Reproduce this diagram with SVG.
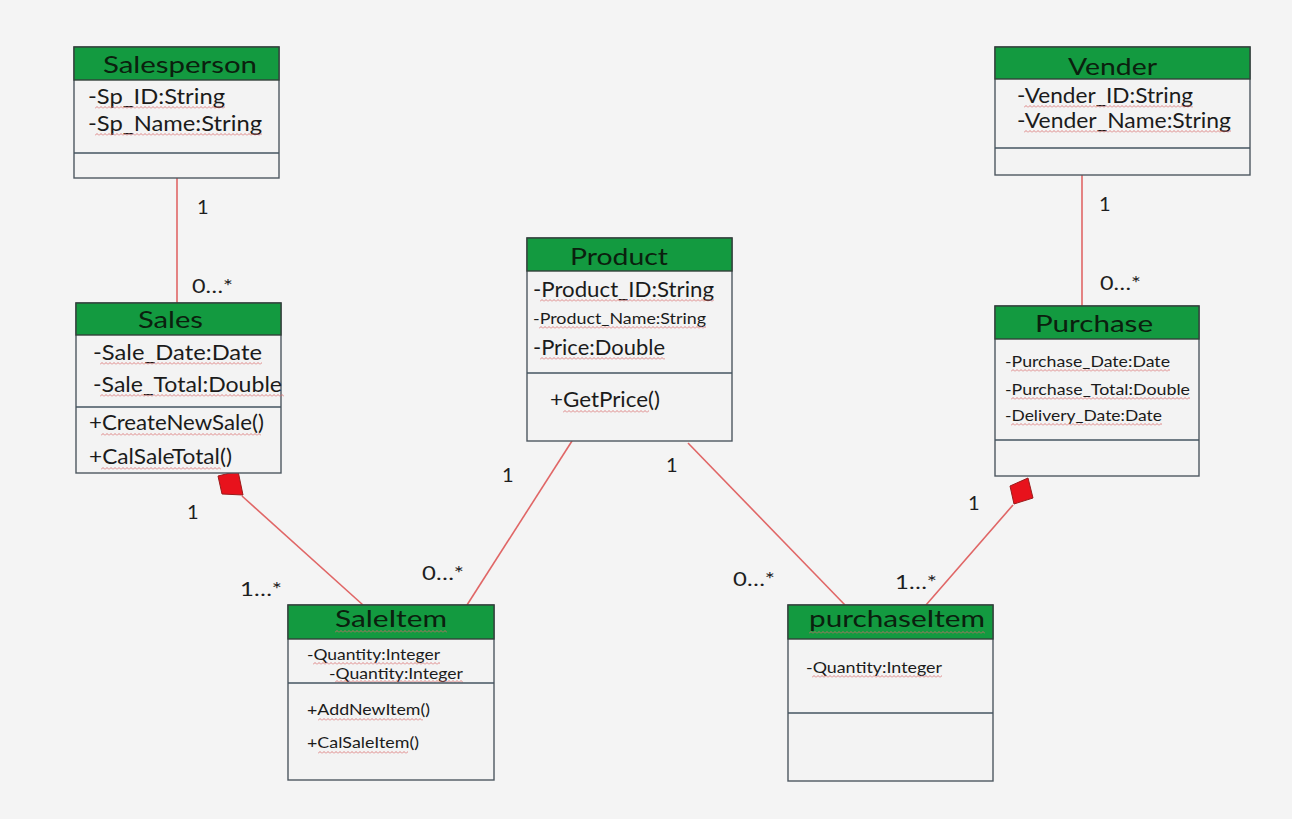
<svg xmlns="http://www.w3.org/2000/svg" width="1292" height="819" viewBox="0 0 1292 819">
<style>
.box{fill:#f3f3f3;stroke:#4d5760;stroke-width:1.4}
.hdr{fill:#139a40;stroke:#33403a;stroke-width:1.4}
.div{stroke:#455460;stroke-width:1.6}
.t{font-family:Lato,"Open Sans","DejaVu Sans",sans-serif;fill:#1b1b1b}
.h{font-family:Lato,"Open Sans","DejaVu Sans",sans-serif;fill:#0b200e;font-size:24px}
.a{font-size:21px}
.s{font-size:15px}
.m{font-size:16px}
.lbl{font-family:Lato,"Open Sans","DejaVu Sans",sans-serif;fill:#1e1e1e;font-size:20px}
.wv{fill:url(#wave)}
.c{stroke:#e06666;stroke-width:1.6;fill:none}
.dia{fill:#e8121c;stroke:#9a1a1a;stroke-width:1}
</style>
<defs>
<pattern id="wave" patternUnits="userSpaceOnUse" width="4" height="3">
<path d="M0 2.5 L2 0.5 L4 2.5" stroke="#d86a6a" stroke-width="0.8" fill="none"/>
</pattern>
</defs>
<rect width="1292" height="819" fill="#f4f4f4"/>

<g id="connectors">
<line class="c" x1="177" y1="178" x2="177" y2="303"/>
<line class="c" x1="1082" y1="175" x2="1082" y2="306"/>
<line class="c" x1="242" y1="496" x2="363" y2="605"/>
<polygon class="dia" points="218,476 238,471 243,495 222,494"/>
<line class="c" x1="572" y1="441" x2="467" y2="605"/>
<line class="c" x1="688" y1="443" x2="845" y2="605"/>
<line class="c" x1="1013" y1="505" x2="926" y2="605"/>
<polygon class="dia" points="1010,486 1028,478 1033,498 1014,504"/>
<text class="lbl" x="197" y="214">1</text>
<text class="lbl" x="192" y="293" textLength="41" lengthAdjust="spacingAndGlyphs">0…*</text>
<text class="lbl" x="1099" y="211">1</text>
<text class="lbl" x="1100" y="290" textLength="41" lengthAdjust="spacingAndGlyphs">0…*</text>
<text class="lbl" x="187" y="519">1</text>
<text class="lbl" x="240" y="596" textLength="42" lengthAdjust="spacingAndGlyphs">1…*</text>
<text class="lbl" x="422" y="580" textLength="42" lengthAdjust="spacingAndGlyphs">0…*</text>
<text class="lbl" x="502" y="482">1</text>
<text class="lbl" x="666" y="472">1</text>
<text class="lbl" x="733" y="586" textLength="42" lengthAdjust="spacingAndGlyphs">0…*</text>
<text class="lbl" x="895" y="589" textLength="42" lengthAdjust="spacingAndGlyphs">1…*</text>
<text class="lbl" x="968" y="510">1</text>
</g>

<g id="salesperson">
<rect class="box" x="74" y="47" width="205" height="131"/>
<rect class="hdr" x="74" y="47" width="205" height="33"/>
<text class="h" x="103" y="73" textLength="154" lengthAdjust="spacingAndGlyphs">Salesperson</text>
<text class="t a" x="88" y="104" textLength="137" lengthAdjust="spacingAndGlyphs">-Sp_ID:String</text>
<text class="t a" x="88" y="131" textLength="174" lengthAdjust="spacingAndGlyphs">-Sp_Name:String</text>
<rect class="wv" width="130" height="3" transform="translate(95,106)"/>
<rect class="wv" width="167" height="3" transform="translate(95,133)"/>
<line class="div" x1="74" y1="153" x2="279" y2="153"/>
</g>

<g id="sales">
<rect class="box" x="76" y="303" width="205" height="170"/>
<rect class="hdr" x="76" y="303" width="205" height="32"/>
<text class="h" x="138" y="328" textLength="65" lengthAdjust="spacingAndGlyphs">Sales</text>
<text class="t a" x="93" y="360" textLength="169" lengthAdjust="spacingAndGlyphs">-Sale_Date:Date</text>
<text class="t a" x="93" y="392" textLength="189" lengthAdjust="spacingAndGlyphs">-Sale_Total:Double</text>
<rect class="wv" width="162" height="3" transform="translate(100,362)"/>
<rect class="wv" width="184" height="3" transform="translate(100,394)"/>
<line class="div" x1="76" y1="407" x2="281" y2="407"/>
<text class="t a" x="89" y="430" textLength="175" lengthAdjust="spacingAndGlyphs">+CreateNewSale()</text>
<text class="t a" x="89" y="464" textLength="143" lengthAdjust="spacingAndGlyphs">+CalSaleTotal()</text>
<rect class="wv" width="160" height="3" transform="translate(101,433)"/>
<rect class="wv" width="120" height="3" transform="translate(101,467)"/>
</g>

<g id="vender">
<rect class="box" x="995" y="47" width="255" height="128"/>
<rect class="hdr" x="995" y="47" width="255" height="32"/>
<text class="h" x="1068" y="75" textLength="89" lengthAdjust="spacingAndGlyphs">Vender</text>
<text class="t a" x="1017" y="103" textLength="176" lengthAdjust="spacingAndGlyphs">-Vender_ID:String</text>
<text class="t a" x="1017" y="128" textLength="214" lengthAdjust="spacingAndGlyphs">-Vender_Name:String</text>
<rect class="wv" width="169" height="3" transform="translate(1024,105)"/>
<rect class="wv" width="207" height="3" transform="translate(1024,130)"/>
<line class="div" x1="995" y1="148" x2="1250" y2="148"/>
</g>

<g id="purchase">
<rect class="box" x="995" y="306" width="204" height="170"/>
<rect class="hdr" x="995" y="306" width="204" height="33"/>
<text class="h" x="1035" y="332" textLength="118" lengthAdjust="spacingAndGlyphs">Purchase</text>
<text class="t s" x="1005" y="367" textLength="165" lengthAdjust="spacingAndGlyphs">-Purchase_Date:Date</text>
<text class="t s" x="1005" y="395" textLength="185" lengthAdjust="spacingAndGlyphs">-Purchase_Total:Double</text>
<text class="t s" x="1005" y="421" textLength="157" lengthAdjust="spacingAndGlyphs">-Delivery_Date:Date</text>
<rect class="wv" width="159" height="3" transform="translate(1011,369)"/>
<rect class="wv" width="179" height="3" transform="translate(1011,397)"/>
<rect class="wv" width="151" height="3" transform="translate(1011,423)"/>
<line class="div" x1="995" y1="440" x2="1199" y2="440"/>
</g>

<g id="product">
<rect class="box" x="527" y="238" width="205" height="203"/>
<rect class="hdr" x="527" y="238" width="205" height="33"/>
<text class="h" x="570" y="265" textLength="98" lengthAdjust="spacingAndGlyphs">Product</text>
<text class="t a" x="533" y="297" textLength="181" lengthAdjust="spacingAndGlyphs">-Product_ID:String</text>
<text class="t m" x="533" y="324" textLength="173" lengthAdjust="spacingAndGlyphs">-Product_Name:String</text>
<text class="t a" x="533" y="355" textLength="132" lengthAdjust="spacingAndGlyphs">-Price:Double</text>
<rect class="wv" width="174" height="3" transform="translate(540,299)"/>
<rect class="wv" width="167" height="3" transform="translate(539,326)"/>
<rect class="wv" width="125" height="3" transform="translate(540,357)"/>
<line class="div" x1="527" y1="373" x2="732" y2="373"/>
<text class="t a" x="550" y="407" textLength="110" lengthAdjust="spacingAndGlyphs">+GetPrice()</text>
<rect class="wv" width="86" height="3" transform="translate(563,410)"/>
</g>

<g id="saleitem">
<rect class="box" x="288" y="605" width="206" height="175"/>
<rect class="hdr" x="288" y="605" width="206" height="34"/>
<text class="h" x="335" y="627" textLength="112" lengthAdjust="spacingAndGlyphs">SaleItem</text>
<rect class="wv" width="112" height="3" transform="translate(335,630)"/>
<text class="t s" x="307" y="660" textLength="133" lengthAdjust="spacingAndGlyphs">-Quantity:Integer</text>
<text class="t s" x="329" y="679" textLength="134" lengthAdjust="spacingAndGlyphs">-Quantity:Integer</text>
<rect class="wv" width="127" height="3" transform="translate(313,662)"/>
<rect class="wv" width="128" height="3" transform="translate(335,680)"/>
<line class="div" x1="288" y1="683" x2="494" y2="683"/>
<text class="t m" x="307" y="715" textLength="123" lengthAdjust="spacingAndGlyphs">+AddNewItem()</text>
<text class="t m" x="307" y="748" textLength="112" lengthAdjust="spacingAndGlyphs">+CalSaleItem()</text>
<rect class="wv" width="105" height="3" transform="translate(318,718)"/>
<rect class="wv" width="90" height="3" transform="translate(318,751)"/>
</g>

<g id="purchaseitem">
<rect class="box" x="788" y="605" width="205" height="176"/>
<rect class="hdr" x="788" y="605" width="205" height="34"/>
<text class="h" x="809" y="627" textLength="176" lengthAdjust="spacingAndGlyphs">purchaseItem</text>
<rect class="wv" width="176" height="3" transform="translate(809,631)"/>
<text class="t s" x="806" y="673" textLength="136" lengthAdjust="spacingAndGlyphs">-Quantity:Integer</text>
<rect class="wv" width="130" height="3" transform="translate(812,675)"/>
<line class="div" x1="788" y1="713" x2="993" y2="713"/>
</g>
</svg>
